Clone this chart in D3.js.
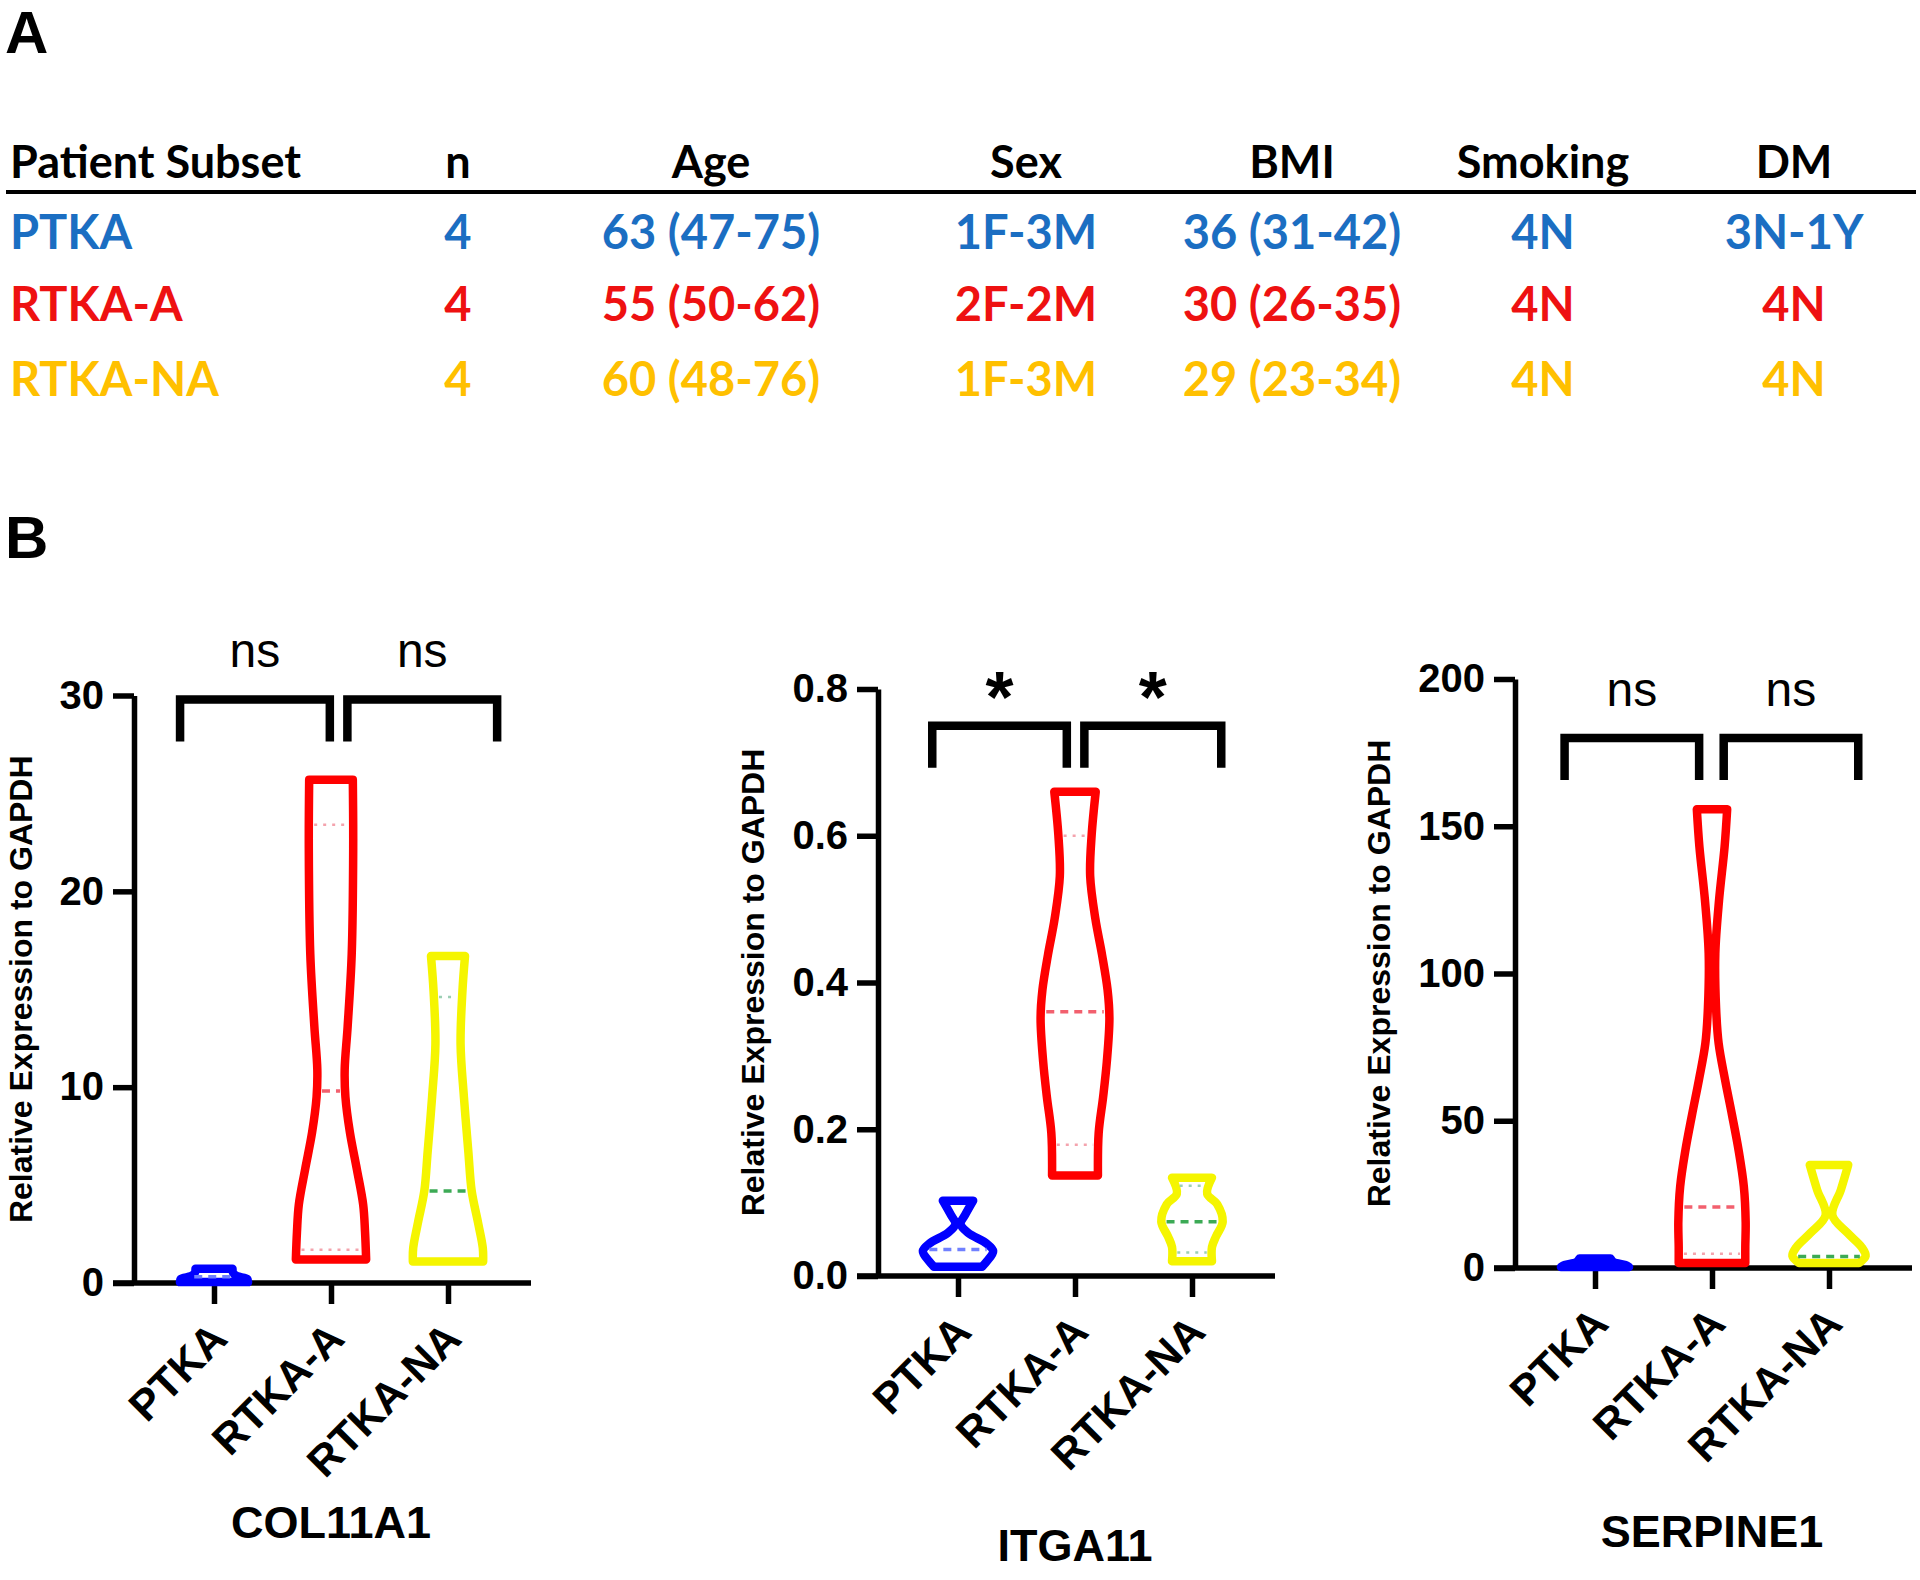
<!DOCTYPE html>
<html><head><meta charset="utf-8">
<script src="https://cdn.jsdelivr.net/npm/d3@7"></script>
<style>
body{margin:0;background:#fff;}
svg{display:block;}
</style></head><body>
<svg id="chart" width="1920" height="1580"></svg>
<script>
// ---------------- Panel A: table data ----------------
const tableColumns = ["Patient Subset", "n", "Age", "Sex", "BMI", "Smoking", "DM"];
const subsets = ["PTKA", "RTKA-A", "RTKA-NA"];
const nValues = ["4", "4", "4"];
const ageValues = ["63 (47-75)", "55 (50-62)", "60 (48-76)"];
const sexValues = ["1F-3M", "2F-2M", "1F-3M"];
const bmiValues = ["36 (31-42)", "30 (26-35)", "29 (23-34)"];
const smokingValues = ["4N", "4N", "4N"];
const dmValues = ["3N-1Y", "4N", "4N"];

// ---------------- Panel B: violin data ----------------
const groups = ["PTKA", "RTKA-A", "RTKA-NA"];
const genes = ["COL11A1", "ITGA11", "SERPINE1"];
const yMax = [30, 0.8, 200];
const yTicks = [[0, 10, 20, 30], [0, 0.2, 0.4, 0.6, 0.8], [0, 50, 100, 150, 200]];

// violin profiles: values (y) and relative density (half width) per group
const col11a1Values = [
  [0.05, 0.2, 0.35, 0.5, 0.73],
  [1.2, 2.6, 4.0, 5.8, 7.7, 9.5, 10.9, 13.1, 16.8, 22.2, 25.7],
  [1.1, 1.8, 3.1, 4.7, 6.7, 9.5, 12.2, 14.9, 16.7]
];
const col11a1Density = [
  [0.92, 0.9, 0.62, 0.52, 0.5],
  [0.95, 0.92, 0.87, 0.70, 0.51, 0.39, 0.37, 0.45, 0.56, 0.60, 0.59],
  [0.95, 0.94, 0.81, 0.64, 0.55, 0.43, 0.34, 0.39, 0.46]
];
const col11a1Quartiles = [[null, 0.32, null], [1.7, 9.8, 23.4], [null, 4.7, 14.6]];

const itga11Values = [
  [0.0125, 0.02, 0.034, 0.044, 0.059, 0.071, 0.083, 0.1026],
  [0.137, 0.195, 0.244, 0.292, 0.351, 0.39, 0.438, 0.487, 0.545, 0.601, 0.66],
  [0.02, 0.0395, 0.054, 0.074, 0.098, 0.112, 0.134]
];
const itga11Density = [
  [0.65, 0.78, 0.95, 0.78, 0.27, 0.07, 0.19, 0.41],
  [0.62, 0.64, 0.76, 0.86, 0.93, 0.88, 0.73, 0.55, 0.41, 0.45, 0.56],
  [0.54, 0.54, 0.65, 0.83, 0.68, 0.41, 0.54]
];
const itga11Quartiles = [[null, 0.036, null], [0.179, 0.36, 0.60], [0.032, 0.074, 0.123]];

const serpine1Values = [
  [0.3, 1.0, 2.0, 3.2],
  [1.7, 7.1, 15.6, 27.7, 39.9, 52, 64.1, 76.2, 88.4, 106.8, 124.8, 143, 155.8],
  [1.7, 4.1, 7.1, 11.9, 18, 26.5, 35]
];
const serpine1Density = [
  [0.92, 0.82, 0.5, 0.42],
  [0.90, 0.90, 0.91, 0.86, 0.72, 0.54, 0.35, 0.18, 0.11, 0.09, 0.19, 0.34, 0.41],
  [0.81, 0.99, 0.88, 0.50, 0.09, 0.32, 0.52]
];
const serpine1Quartiles = [[null, null, null], [4.8, 20.7, null], [null, 3.9, null]];

// significance annotations
const significance = [["ns", "ns"], ["*", "*"], ["ns", "ns"]];
const bracketLevel = [29.8, 0.75, 180];
const bracketSpans = [
  [[-0.29, 0.99], [1.14, 2.42]],
  [[-0.22, 0.93], [1.08, 2.25]],
  [[-0.26, 0.89], [1.10, 2.25]]
];

// ---------------- styling ----------------
const ARIAL = "'Liberation Sans', Arial, Helvetica, sans-serif";
const TABLE_FONT = "Lato, 'Open Sans', sans-serif";
const tableColors = ["#1b6ec2", "#ee1111", "#ffc000"];
const violinColors = ["#0000ff", "#ff0000", "#f5f500"];
const medianColors = ["#7080ff", "#f2606e", "#3caa55"];
const quartileColors = ["#8a95ff", "#f4a3ad", "#9ccfb5"];

const svg = d3.select("#chart");

// panel letters
svg.append("text").attr("x", 5).attr("y", 53).text("A")
  .attr("font-family", ARIAL).attr("font-weight", "bold").attr("font-size", 60);
svg.append("text").attr("x", 5).attr("y", 558).text("B")
  .attr("font-family", ARIAL).attr("font-weight", "bold").attr("font-size", 60);

// ---------------- table ----------------
const colX = [10, 458, 711, 1026, 1292, 1543, 1794];
const headerY = 178, ruleY = 192, rowY = [249, 321, 396];
const tableRows = subsets.map((s, i) => [s, nValues[i], ageValues[i], sexValues[i], bmiValues[i], smokingValues[i], dmValues[i]]);

const tg = svg.append("g").attr("font-family", TABLE_FONT).attr("font-weight", 700);
tg.selectAll("text.hdr").data(tableColumns).join("text").attr("class", "hdr")
  .attr("x", (d, i) => colX[i]).attr("y", headerY)
  .attr("text-anchor", (d, i) => i === 0 ? "start" : "middle")
  .attr("font-size", 45).attr("fill", "#000").text(d => d);
tg.append("line").attr("x1", 6).attr("x2", 1916).attr("y1", ruleY).attr("y2", ruleY)
  .attr("stroke", "#000").attr("stroke-width", 4);
tableRows.forEach((row, r) => {
  tg.selectAll("text.r" + r).data(row).join("text").attr("class", "r" + r)
    .attr("x", (d, i) => colX[i]).attr("y", rowY[r])
    .attr("text-anchor", (d, i) => i === 0 ? "start" : "middle")
    .attr("font-size", 47).attr("fill", tableColors[r]).text(d => d);
});

// ---------------- violin panels ----------------
const layout = [
  {axisX: 134, y0: 1283, yTop: 695.5, titleY: 1538},
  {axisX: 878, y0: 1276, yTop: 689, titleY: 1561},
  {axisX: 1515, y0: 1268, yTop: 679, titleY: 1547}
];
const valuesAll = [col11a1Values, itga11Values, serpine1Values];
const densityAll = [col11a1Density, itga11Density, serpine1Density];
const quartilesAll = [col11a1Quartiles, itga11Quartiles, serpine1Quartiles];
const formats = [d3.format("d"), d3.format(".1f"), d3.format("d")];
const AX_W = 5.5, V_W = 8.5;

function halfAt(vals, dens, q) {
  for (let i = 0; i < vals.length - 1; i++) {
    if (q >= vals[i] && q <= vals[i + 1]) {
      const t = (q - vals[i]) / (vals[i + 1] - vals[i]);
      return dens[i] + t * (dens[i + 1] - dens[i]);
    }
  }
  return dens[q < vals[0] ? 0 : dens.length - 1];
}

genes.forEach((gene, p) => {
  const L = layout[p];
  const y = d3.scaleLinear().domain([0, yMax[p]]).range([L.y0, L.yTop]);
  const x = d3.scaleLinear().domain([0, 2]).range([L.axisX + 80, L.axisX + 314]);
  const w = d3.scaleLinear().domain([0, 1]).range([0, 37]);
  const g = svg.append("g");

  // y axis
  const gy = g.append("g").attr("transform", `translate(${L.axisX},0)`)
    .call(d3.axisLeft(y).tickValues(yTicks[p]).tickFormat(formats[p]).tickSize(21).tickSizeOuter(0).tickPadding(9));
  gy.attr("font-family", ARIAL).attr("font-weight", "bold").attr("font-size", 40);
  gy.select(".domain").attr("stroke", "#000").attr("stroke-width", AX_W);
  gy.selectAll(".tick line").attr("stroke", "#000").attr("stroke-width", AX_W);
  gy.selectAll(".tick text").attr("fill", "#000");

  // x axis
  const gx = g.append("g").attr("transform", `translate(0,${L.y0})`)
    .call(d3.axisBottom(x).tickValues([0, 1, 2]).tickFormat(i => groups[i]).tickSize(21).tickSizeOuter(0));
  gx.select(".domain").remove();
  gx.append("line").attr("x1", L.axisX - 21).attr("x2", L.axisX + 397)
    .attr("stroke", "#000").attr("stroke-width", AX_W);
  gx.attr("font-family", ARIAL).attr("font-weight", "bold").attr("font-size", 43);
  gx.selectAll(".tick line").attr("stroke", "#000").attr("stroke-width", AX_W);
  gx.selectAll(".tick text").attr("fill", "#000").attr("text-anchor", "end")
    .attr("x", 0).attr("y", 0).attr("dy", 0)
    .attr("transform", "translate(15,58) rotate(-45)");

  // y label
  const bb = gy.node().getBBox();
  const leftmost = L.axisX + bb.x;
  g.append("text")
    .attr("transform", `translate(${leftmost - 28},${(L.y0 + L.yTop) / 2}) rotate(-90)`)
    .attr("text-anchor", "middle").attr("font-family", ARIAL).attr("font-weight", "bold")
    .attr("font-size", 32).text("Relative Expression to GAPDH");

  // title
  g.append("text").attr("x", x(1)).attr("y", L.titleY).attr("text-anchor", "middle")
    .attr("font-family", ARIAL).attr("font-weight", "bold").attr("font-size", 45).text(gene);

  // violins
  groups.forEach((grp, k) => {
    const vals = valuesAll[p][k], dens = densityAll[p][k];
    const pts = vals.map((v, i) => ({v, d: dens[i]}));
    const cx = x(k);
    const area = d3.area()
      .y(d => y(d.v)).x0(d => cx - w(d.d)).x1(d => cx + w(d.d))
      .curve(d3.curveCatmullRom.alpha(0.5));
    g.append("path").attr("d", area(pts)).attr("fill", "none")
      .attr("stroke", violinColors[k]).attr("stroke-width", V_W).attr("stroke-linejoin", "round");

    quartilesAll[p][k].forEach((q, qi) => {
      if (q === null) return;
      const hw = w(halfAt(vals, dens, q)) - V_W / 2 - 1;
      if (hw <= 1) return;
      const isMed = qi === 1;
      g.append("line").attr("x1", cx - hw).attr("x2", cx + hw).attr("y1", y(q)).attr("y2", y(q))
        .attr("stroke", isMed ? medianColors[k] : quartileColors[k])
        .attr("stroke-width", isMed ? 3.5 : 2.5)
        .attr("stroke-dasharray", isMed ? "8,6" : "3,6");
    });
  });

  // significance brackets
  const by = y(bracketLevel[p]);
  bracketSpans[p].forEach((span, b) => {
    const xa = x(span[0]), xb = x(span[1]);
    g.append("path").attr("d", `M${xa},${by + 42}V${by}H${xb}V${by + 42}`)
      .attr("fill", "none").attr("stroke", "#000").attr("stroke-width", 8.5)
      .attr("stroke-linejoin", "miter");
    const lab = significance[p][b];
    const mx = x((span[0] + span[1]) / 2);
    if (lab === "*") {
      g.append("text").attr("x", mx).attr("y", by - 4).attr("text-anchor", "middle")
        .attr("font-family", ARIAL).attr("font-weight", "bold").attr("font-size", 72).text(lab);
    } else {
      g.append("text").attr("x", mx).attr("y", by - 32).attr("text-anchor", "middle")
        .attr("font-family", ARIAL).attr("font-size", 48).text(lab);
    }
  });
});
</script>
</body></html>
